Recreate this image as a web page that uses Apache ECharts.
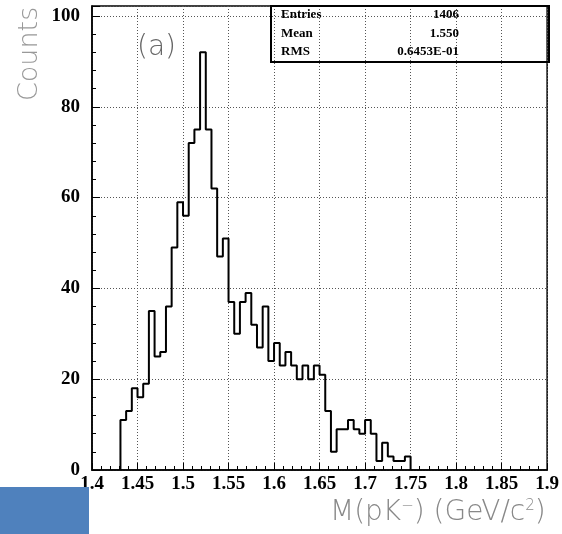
<!DOCTYPE html>
<html>
<head>
<meta charset="utf-8">
<script src="https://cdn.jsdelivr.net/npm/echarts@6/dist/echarts.min.js"></script>
<style>
html,body{margin:0;padding:0;background:#fff;}
#chart{width:562px;height:534px;}
</style>
</head>
<body>
<div id="chart"></div>
<script>
// Histogram: 80 bins of width 0.00625 from 1.4 to 1.9; nonzero bins start at 1.43125
const binStart = 1.43125;
const binWidth = 0.00625;
const counts = [11, 13, 18, 16, 19, 35, 25, 26, 36, 49,
                59, 56, 72, 75, 92, 75, 62,
                47, 51, 37, 30, 37, 39, 32, 27, 36, 24, 28, 23, 26, 23, 20, 23, 20, 23,
                21, 13, 4, 9, 9, 11, 9, 8, 11, 8, 2, 6, 3, 2, 2, 3];
const xTicks = [1.4, 1.45, 1.5, 1.55, 1.6, 1.65, 1.7, 1.75, 1.8, 1.85, 1.9];
const yTicks = [0, 20, 40, 60, 80, 100];
const statsLabels = ['Entries', 'Mean', 'RMS'];
const statsValues = ['1406', '1.550', '0.6453E-01'];

const stepData = [[binStart, 0]];
counts.forEach((c, i) => stepData.push([binStart + i * binWidth, c]));
stepData.push([binStart + counts.length * binWidth, 0]);

const chart = echarts.init(document.getElementById('chart'), null, {renderer: 'canvas'});
const labelFont = {fontFamily: '"Liberation Serif", "Times New Roman", serif', fontWeight: 'bold', fontSize: 19, color: '#000'};
const gridLine = {show: true, lineStyle: {color: '#555', width: 1, type: [1, 2]}};
const thinFont = '"DejaVu Sans ExtraLight", "DejaVu Sans", sans-serif';

chart.setOption({
  animation: false,
  backgroundColor: '#fff',
  grid: {left: 92, right: 13, top: 6, bottom: 64, show: true, borderColor: '#000', borderWidth: 1.5, backgroundColor: 'transparent', containLabel: false},
  xAxis: {
    type: 'value', min: xTicks[0], max: xTicks[xTicks.length - 1], interval: 0.05,
    axisLine: {show: true, lineStyle: {color: '#000', width: 1.5}},
    axisTick: {show: true, inside: true, length: 7, lineStyle: {color: '#000', width: 1}},
    minorTick: {show: true, splitNumber: 5, length: 4, lineStyle: {color: '#000', width: 1}},
    axisLabel: Object.assign({margin: 5, formatter: v => {
      const t = xTicks.find(x => Math.abs(x - v) < 1e-6);
      return t === undefined ? '' : String(t);
    }}, labelFont),
    splitLine: gridLine,
    minorSplitLine: {show: false}
  },
  yAxis: [{
    type: 'value', min: 0, max: 102.2, interval: 20,
    axisLine: {show: true, lineStyle: {color: '#000', width: 1.5}},
    axisTick: {show: true, inside: true, length: 8, lineStyle: {color: '#000', width: 1}},
    axisLabel: Object.assign({margin: 12, formatter: v => {
      const t = yTicks.find(y => Math.abs(y - v) < 1e-6);
      return t === undefined ? '' : String(t);
    }}, labelFont),
    splitLine: gridLine
  }, {
    type: 'value', min: 0, max: 102.2, interval: 4, position: 'left',
    axisLine: {show: false},
    axisTick: {show: true, inside: true, length: 4, lineStyle: {color: '#000', width: 1}},
    axisLabel: {show: false},
    splitLine: {show: false}
  }],
  series: [{
    type: 'line', step: 'end', data: stepData, yAxisIndex: 0,
    symbol: 'none', lineStyle: {color: '#000', width: 2}, z: 5
  }],
  graphic: [
    {type: 'text', x: 16, y: 101, rotation: Math.PI / 2, style: {text: 'Counts', font: '200 27px ' + thinFont, fill: '#999'}, z: 10},
    {type: 'text', x: 137, y: 34, style: {text: '(a)', font: '200 28px ' + thinFont, fill: '#666'}, z: 10},
    {type: 'text', x: 330, y: 499, style: {
      text: '{n|M(pK}{s|−}{n|) (GeV/c}{s|2}{n|)}',
      rich: {n: {font: '200 28px ' + thinFont, fill: '#888'}, s: {font: '200 15px ' + thinFont, fill: '#888', verticalAlign: 'top', padding: [0, 0, 11, 0]}}
    }, z: 10},
    {type: 'rect', shape: {x: 271, y: 6, width: 278, height: 56}, style: {fill: 'none', stroke: '#000', lineWidth: 2}, z: 10},
    ...statsLabels.map((t, i) => ({type: 'text', x: 281, y: 15 + i * 18.5, style: {text: t, font: 'bold 13px "Liberation Serif", serif', fill: '#000', verticalAlign: 'middle'}, z: 10})),
    ...statsValues.map((t, i) => ({type: 'text', x: 459, y: 15 + i * 18.5, style: {text: t, font: 'bold 13px "Liberation Serif", serif', fill: '#000', align: 'right', verticalAlign: 'middle'}, z: 10})),
    {type: 'rect', shape: {x: 0, y: 487, width: 89, height: 47}, style: {fill: '#4f81bd'}, z: 20}
  ]
});
</script>
</body>
</html>
